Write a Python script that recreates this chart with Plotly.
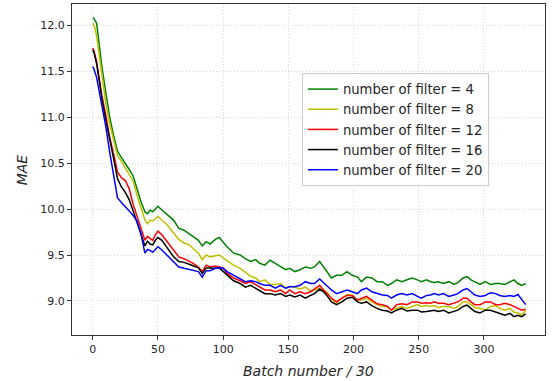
import plotly.graph_objects as go

batch = [0, 1, 3, 5, 7, 10, 13, 16, 19, 22, 25, 28, 31, 34, 37, 40, 42, 44, 46, 48,
         50, 53, 57, 62, 66, 70, 74, 77, 81, 84, 87, 90, 94, 97, 100, 103, 108, 113, 117, 121,
         125, 128, 132, 136, 140, 144, 148, 151, 155, 159, 163, 167, 170, 174, 177,
         180, 183, 187, 191, 195, 199, 203, 206, 210, 214, 218, 222, 226, 229, 233,
         237, 241, 245, 249, 252, 256, 259, 262, 265, 269, 273, 277, 280, 284, 287,
         290, 293, 297, 301, 305, 309, 312, 316, 320, 323, 326, 329, 332]

mae_f4 = [12.08, 12.07, 12.02, 11.78, 11.55, 11.27, 11.00, 10.80, 10.63, 10.56,
          10.50, 10.43, 10.36, 10.22, 10.08, 9.97, 9.95, 9.99, 9.97, 10.00,
          10.03, 9.99, 9.94, 9.88, 9.79, 9.77, 9.73, 9.70, 9.66, 9.60,
          9.645, 9.62, 9.67, 9.69, 9.64, 9.59, 9.52, 9.50, 9.46, 9.43,
          9.45, 9.41, 9.39, 9.445, 9.41, 9.37, 9.34, 9.355, 9.32, 9.34,
          9.37, 9.355, 9.37, 9.43, 9.37, 9.31, 9.25, 9.28, 9.28, 9.32,
          9.28, 9.26, 9.21, 9.26, 9.25, 9.21, 9.21, 9.17, 9.19, 9.23,
          9.21, 9.23, 9.25, 9.23, 9.21, 9.23, 9.21, 9.20, 9.21, 9.19,
          9.21, 9.18, 9.20, 9.25, 9.265, 9.23, 9.21, 9.18, 9.21, 9.18,
          9.19, 9.19, 9.18, 9.21, 9.23, 9.19, 9.17, 9.19]

mae_f8 = [12.02, 12.00, 11.88, 11.66, 11.45, 11.15, 10.93, 10.74, 10.58, 10.52,
          10.45, 10.38, 10.30, 10.15, 10.00, 9.88, 9.84, 9.88, 9.87, 9.90,
          9.92, 9.88, 9.83, 9.74, 9.67, 9.63, 9.61, 9.57, 9.52, 9.45,
          9.50, 9.48, 9.49, 9.50, 9.47, 9.44, 9.39, 9.355, 9.31, 9.27,
          9.25, 9.21, 9.23, 9.18, 9.18, 9.19, 9.14, 9.16, 9.15, 9.13,
          9.15, 9.11, 9.12, 9.14, 9.12, 9.09, 9.02, 8.98, 9.03, 9.07,
          9.06, 9.01, 9.01, 9.03, 8.99, 8.96, 8.94, 8.94, 8.90, 8.92,
          8.94, 8.92, 8.94, 8.96, 8.94, 8.95, 8.94, 8.95, 8.93, 8.94,
          8.94, 8.92, 8.94, 8.99, 8.99, 8.96, 8.93, 8.92, 8.90, 8.94,
          8.95, 8.92, 8.90, 8.92, 8.88, 8.87, 8.85, 8.90]

mae_f12 = [11.75, 11.72, 11.60, 11.40, 11.24, 11.02, 10.78, 10.60, 10.40, 10.34,
           10.31, 10.22, 10.05, 9.92, 9.79, 9.66, 9.70, 9.68, 9.66, 9.72,
           9.76, 9.72, 9.645, 9.55, 9.48, 9.46, 9.43, 9.41, 9.37, 9.32,
           9.39, 9.37, 9.38, 9.37, 9.36, 9.30, 9.25, 9.22, 9.19, 9.21,
           9.18, 9.15, 9.12, 9.12, 9.10, 9.12, 9.08, 9.12, 9.08, 9.10,
           9.08, 9.10, 9.13, 9.17, 9.12, 9.08, 9.03, 8.99, 9.03, 9.06,
           9.06, 9.01, 9.03, 9.05, 9.01, 8.97, 8.96, 8.94, 8.90, 8.96,
           8.97, 8.96, 8.99, 8.99, 8.975, 8.98, 8.975, 8.99, 8.975, 8.975,
           8.96, 8.975, 8.99, 9.03, 9.03, 8.99, 8.96, 8.96, 8.99, 8.99,
           8.96, 8.96, 8.975, 8.96, 8.94, 8.92, 8.90, 8.91]

mae_f16 = [11.73, 11.70, 11.58, 11.38, 11.20, 10.97, 10.74, 10.55, 10.33, 10.24,
           10.18, 10.10, 9.98, 9.85, 9.73, 9.60, 9.65, 9.62, 9.61, 9.66,
           9.69, 9.66, 9.58, 9.48, 9.43, 9.42, 9.40, 9.38, 9.36, 9.30,
           9.36, 9.36, 9.355, 9.36, 9.32, 9.28, 9.22, 9.19, 9.15, 9.17,
           9.14, 9.11, 9.08, 9.08, 9.065, 9.08, 9.05, 9.065, 9.045, 9.065,
           9.03, 9.06, 9.08, 9.13, 9.10, 9.05, 8.99, 8.96, 8.99, 9.03,
           9.04, 8.99, 8.975, 8.99, 8.95, 8.92, 8.90, 8.89, 8.87, 8.90,
           8.92, 8.89, 8.90, 8.90, 8.88, 8.885, 8.89, 8.90, 8.885, 8.90,
           8.87, 8.885, 8.90, 8.94, 8.955, 8.92, 8.885, 8.87, 8.90, 8.90,
           8.88, 8.86, 8.845, 8.865, 8.83, 8.845, 8.83, 8.86]

mae_f20 = [11.55, 11.52, 11.43, 11.28, 11.15, 10.90, 10.62, 10.37, 10.12, 10.07,
           10.03, 9.98, 9.93, 9.87, 9.73, 9.52, 9.56, 9.55, 9.53, 9.56,
           9.59, 9.555, 9.50, 9.43, 9.37, 9.355, 9.34, 9.33, 9.32, 9.26,
           9.33, 9.33, 9.355, 9.36, 9.355, 9.32, 9.28, 9.24, 9.21, 9.22,
           9.21, 9.19, 9.17, 9.17, 9.14, 9.17, 9.14, 9.155, 9.155, 9.17,
           9.21, 9.19, 9.19, 9.24, 9.20, 9.16, 9.12, 9.08, 9.10, 9.12,
           9.10, 9.08, 9.12, 9.14, 9.10, 9.08, 9.065, 9.06, 9.03, 9.065,
           9.08, 9.065, 9.08, 9.05, 9.03, 9.06, 9.065, 9.08, 9.065, 9.08,
           9.05, 9.065, 9.08, 9.12, 9.135, 9.10, 9.065, 9.05, 9.06, 9.09,
           9.08, 9.06, 9.05, 9.06, 9.05, 9.07, 9.01, 8.96]

series_names = ["number of filter = 4", "number of filter = 8", "number of filter = 12",
                "number of filter = 16", "number of filter = 20"]
series_values = [mae_f4, mae_f8, mae_f12, mae_f16, mae_f20]
series_colors = ["#008000", "#bfbf00", "#ff0000", "#000000", "#0000ff"]

x_ticks = [0, 50, 100, 150, 200, 250, 300]
y_ticks = [9.0, 9.5, 10.0, 10.5, 11.0, 11.5, 12.0]

fig = go.Figure()
for name, vals, col in zip(series_names, series_values, series_colors):
    fig.add_trace(go.Scatter(x=batch, y=vals, mode="lines", name=name,
                             line=dict(color=col, width=1.5)))

axis_common = dict(
    showline=True, linecolor="#333333", linewidth=1, mirror=True,
    ticks="outside", ticklen=4, tickcolor="#333333", tickwidth=1,
    showgrid=True, gridcolor="#d9d9d9", gridwidth=0.8, griddash="1px,2px",
    zeroline=False, automargin=False,
    tickfont=dict(family="DejaVu Sans", size=11, color="#262626"),
)

fig.update_xaxes(range=[-15.9, 346.8], tickvals=x_ticks, **axis_common)
fig.update_yaxes(range=[8.63, 12.23], tickvals=y_ticks, tickformat=".1f", **axis_common)

title_font = dict(family="DejaVu Sans", size=14, color="#262626")
fig.add_annotation(text="<i>Batch number / 30</i>", xref="paper", yref="paper",
                   x=0.5, y=-0.109, xanchor="center", yanchor="middle",
                   showarrow=False, font=title_font)
fig.add_annotation(text="<i>MAE</i>", xref="paper", yref="paper",
                   x=-0.106, y=0.5, xanchor="center", yanchor="middle",
                   textangle=-90, showarrow=False, font=title_font)

fig.update_layout(
    width=552, height=381,
    margin=dict(l=72, r=7, t=4, b=46),
    plot_bgcolor="white", paper_bgcolor="white",
    font=dict(family="DejaVu Sans", color="#262626"),
    legend=dict(x=0.486, y=0.7915, xanchor="left", yanchor="top",
                bgcolor="rgba(255,255,255,0.8)", bordercolor="#cccccc", borderwidth=1,
                font=dict(family="DejaVu Sans", size=13.2, color="#262626"),
                tracegroupgap=0),
    showlegend=True,
)

fig.write_html("out.html", config={"displayModeBar": False},
               post_script="document.body.style.margin='0px';document.body.style.overflow='hidden';")
